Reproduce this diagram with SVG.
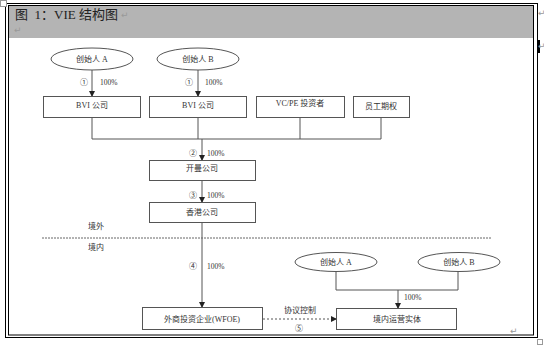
<svg xmlns="http://www.w3.org/2000/svg" width="544" height="347" viewBox="0 0 544 347">
<style>
.box{fill:#fff;stroke:#555;stroke-width:1}
.ell{fill:#fff;stroke:#555;stroke-width:1}
.t{font-family:"Liberation Serif","Noto Sans CJK SC",serif;font-size:8px;fill:#333;text-anchor:middle}
.lab{font-family:"Liberation Serif","Noto Sans CJK SC",serif;font-size:7.5px;fill:#333}
.num{font-family:"Noto Sans CJK SC",sans-serif;font-size:8px;fill:#333;text-anchor:middle}
.ln{fill:none;stroke:#555;stroke-width:1}
.ret{font-family:"DejaVu Sans",sans-serif;font-size:9px;fill:#999}
</style>
<defs>
<marker id="ah" markerWidth="6" markerHeight="6" refX="5" refY="3" orient="auto" markerUnits="userSpaceOnUse">
<path d="M0,0 L6,3 L0,6 Z" fill="#222"/>
</marker>
</defs>
<rect width="544" height="347" fill="#fff"/>
<!-- frame -->
<rect x="9" y="6" width="524" height="32" fill="#b4b4b4"/>
<rect x="5.5" y="3.5" width="532" height="334" fill="none" stroke="#000" stroke-width="1"/>
<rect x="8.5" y="5.5" width="525" height="329.5" fill="none" stroke="#000" stroke-width="1"/>
<rect x="0.5" y="0.5" width="6" height="6" fill="#fff" stroke="#999" stroke-width="1"/>
<rect x="537.5" y="339.5" width="5" height="5" fill="#fff" stroke="#999" stroke-width="1"/>
<rect x="538" y="40" width="2" height="13" fill="#000"/>
<text x="15" y="19" font-family="Liberation Serif,'Noto Sans CJK SC',serif" font-size="13" fill="#222" xml:space="preserve">图  1：VIE 结构图</text>
<text class="ret" x="121" y="18">↵</text>
<text class="ret" x="14" y="33">↵</text>
<text class="ret" x="538" y="16">↵</text>
<text class="ret" x="538" y="49">↵</text>
<text class="ret" x="510" y="334">↵</text>

<!-- connectors -->
<g id="connectors">
<line class="ln" x1="92" y1="70" x2="92" y2="96" marker-end="url(#ah)"/>
<line class="ln" x1="198" y1="70" x2="198" y2="96" marker-end="url(#ah)"/>
<polyline class="ln" points="92,117 92,139 381,139 381,117"/>
<line class="ln" x1="198" y1="117" x2="198" y2="139"/>
<line class="ln" x1="300" y1="117" x2="300" y2="139"/>
<line class="ln" x1="202" y1="139" x2="202" y2="160" marker-end="url(#ah)"/>
<line class="ln" x1="202" y1="181" x2="202" y2="202" marker-end="url(#ah)"/>
<line class="ln" x1="202" y1="223" x2="202" y2="307" marker-end="url(#ah)"/>
<line x1="42" y1="238" x2="492" y2="238" stroke="#666" stroke-width="1" stroke-dasharray="2,1"/>
<polyline class="ln" points="336,271 336,290 458,290 458,271"/>
<line class="ln" x1="398" y1="290" x2="398" y2="308" marker-end="url(#ah)"/>
<line class="ln" x1="263" y1="319" x2="336" y2="319" stroke-dasharray="2,2" marker-end="url(#ah)"/>
<text class="num" x="84" y="85">①</text>
<text class="lab" x="100" y="85">100%</text>
<text class="num" x="189" y="85">①</text>
<text class="lab" x="205" y="85">100%</text>
<text class="num" x="193" y="156">②</text>
<text class="lab" x="207" y="156">100%</text>
<text class="num" x="193" y="198">③</text>
<text class="lab" x="207" y="198">100%</text>
<text class="num" x="193" y="269">④</text>
<text class="lab" x="207" y="269">100%</text>
<text class="lab" x="404" y="300">100%</text>
<text class="t" x="300" y="313">协议控制</text>
<text class="num" x="299" y="331">⑤</text>
<text class="t" x="96" y="229">境外</text>
<text class="t" x="96" y="250">境内</text>
</g>

<g id="founderA1"><ellipse class="ell" cx="92" cy="59" rx="41" ry="11"/><text class="t" x="92" y="62">创始人 A</text></g>
<g id="founderB1"><ellipse class="ell" cx="198" cy="59" rx="41" ry="11"/><text class="t" x="198" y="62">创始人 B</text></g>
<g id="bvi1"><rect class="box" x="43.5" y="96.5" width="97" height="21"/><text class="t" x="92" y="108">BVI 公司</text></g>
<g id="bvi2"><rect class="box" x="149.5" y="96.5" width="97" height="21"/><text class="t" x="198" y="108">BVI 公司</text></g>
<g id="vcpe"><rect class="box" x="256.5" y="96.5" width="88" height="21"/><text class="t" x="300" y="106">VC/PE 投资者</text></g>
<g id="esop"><rect class="box" x="353.5" y="96.5" width="56" height="21"/><text class="t" x="381" y="109">员工期权</text></g>
<g id="cayman"><rect class="box" x="149.5" y="160.5" width="106" height="20"/><text class="t" x="202" y="171">开曼公司</text></g>
<g id="hk"><rect class="box" x="149.5" y="202.5" width="106" height="20"/><text class="t" x="202" y="215">香港公司</text></g>
<g id="wfoe"><rect class="box" x="142.5" y="307.5" width="120" height="22"/><text class="t" x="202" y="322">外商投资企业(WFOE)</text></g>
<g id="founderA2"><ellipse class="ell" cx="336" cy="262" rx="41" ry="9.5"/><text class="t" x="336" y="265">创始人 A</text></g>
<g id="founderB2"><ellipse class="ell" cx="459" cy="262" rx="41" ry="9.5"/><text class="t" x="459" y="265">创始人 B</text></g>
<g id="domestic"><rect class="box" x="336.5" y="308.5" width="120" height="21"/><text class="t" x="397" y="322">境内运营实体</text></g>
</svg>
